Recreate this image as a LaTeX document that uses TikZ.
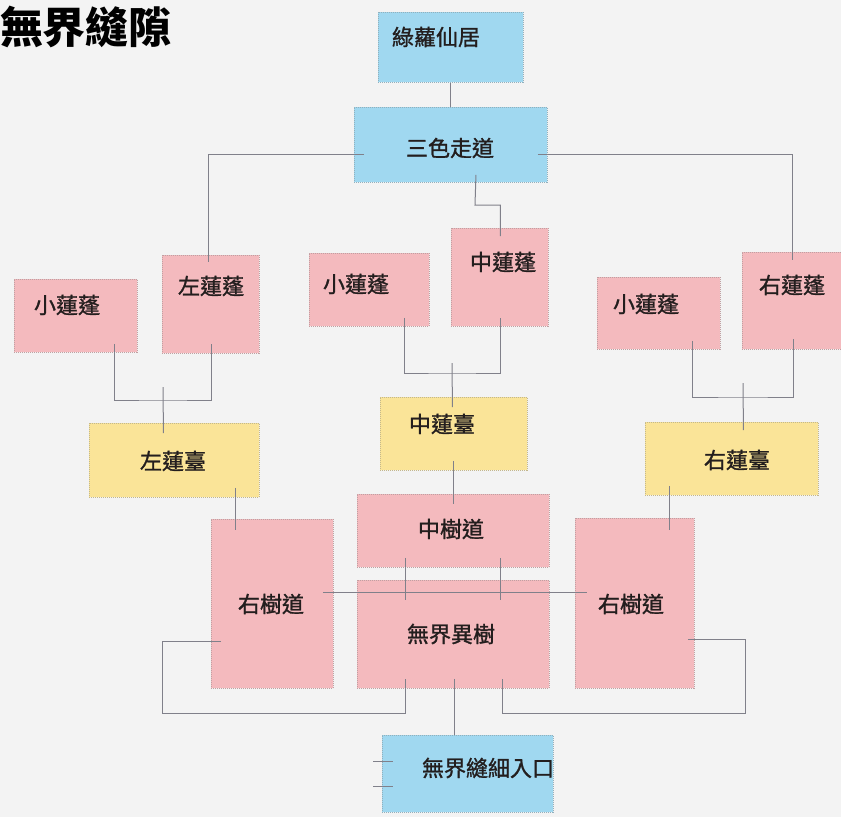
\documentclass[tikz,border=0pt]{standalone}
\usepackage{fontspec}
\newfontfamily\cjk{Noto Sans CJK TC}
\newfontfamily\cjkm{Noto Sans CJK TC}[FakeBold=1.2]
\usetikzlibrary{calc}
\definecolor{bluec}{RGB}{160,216,240}
\definecolor{pinkc}{RGB}{244,186,190}
\definecolor{yelc}{RGB}{250,228,152}
\definecolor{linec}{RGB}{128,128,138}
\definecolor{bgc}{RGB}{243,243,243}
\definecolor{txtc}{RGB}{35,30,30}
\tikzset{
  box/.style={rectangle, inner sep=0pt, anchor=north west, fill=#1,
    draw=#1!55!gray, line width=0.9pt, dash pattern=on 1pt off 1pt},
  lbl/.style={inner sep=0pt, text=txtc, font=\cjkm\fontsize{22}{24}\selectfont},
  conn/.style={draw=linec, line width=1pt}
}
\begin{document}
\begin{tikzpicture}[x=1pt,y=-1pt]
\fill[bgc] (0,0) rectangle (841,817);
\useasboundingbox (0,0) rectangle (841,817);

% title
\node[inner sep=0pt, text=black, font=\cjk\bfseries\fontsize{43}{45}\selectfont] (title) at (86,27) {無界縫隙};

% boxes
\node[box=bluec, minimum width=145pt, minimum height=70pt] (top) at (378,12) {};
\node[box=bluec, minimum width=193pt, minimum height=75pt] (sanse) at (354,107) {};
\node[box=pinkc, minimum width=123pt, minimum height=73pt] (sl) at (14,279) {};
\node[box=pinkc, minimum width=97pt, minimum height=98pt] (zlp) at (162,255) {};
\node[box=pinkc, minimum width=120pt, minimum height=73pt] (sm) at (309,253) {};
\node[box=pinkc, minimum width=97pt, minimum height=98pt] (zhp) at (451,228) {};
\node[box=pinkc, minimum width=123pt, minimum height=72pt] (sr) at (597,277) {};
\node[box=pinkc, minimum width=99pt, minimum height=97pt] (ylp) at (742,252) {};
\node[box=yelc, minimum width=170pt, minimum height=74pt] (zlt) at (89,423) {};
\node[box=yelc, minimum width=147pt, minimum height=73pt] (zht) at (380,397) {};
\node[box=yelc, minimum width=173pt, minimum height=73pt] (ylt) at (645,422) {};
\node[box=pinkc, minimum width=192pt, minimum height=73pt] (zsd) at (357,494) {};
\node[box=pinkc, minimum width=122pt, minimum height=169pt] (lsd) at (211,519) {};
\node[box=pinkc, minimum width=192pt, minimum height=108pt] (yjs) at (357,580) {};
\node[box=pinkc, minimum width=119pt, minimum height=170pt] (rsd) at (575,518) {};
\node[box=bluec, minimum width=171pt, minimum height=77pt] (ent) at (382,735) {};

% labels
\node[lbl] (t1) at (436,37) {綠蘿仙居};
\node[lbl] (t2) at (450,148) {三色走道};
\node[lbl] (t3) at (67,305) {小蓮蓬};
\node[lbl] (t4) at (211,286) {左蓮蓬};
\node[lbl] (t5) at (356,284) {小蓮蓬};
\node[lbl] (t6) at (503,262) {中蓮蓬};
\node[lbl] (t7) at (646,304) {小蓮蓬};
\node[lbl] (t8) at (792,285) {右蓮蓬};
\node[lbl] (t9) at (173,461) {左蓮臺};
\node[lbl] (t10) at (442,424) {中蓮臺};
\node[lbl] (t11) at (737,460) {右蓮臺};
\node[lbl] (t12) at (451,529) {中樹道};
\node[lbl] (t13) at (271,604) {右樹道};
\node[lbl] (t14) at (451,634) {無界異樹};
\node[lbl] (t15) at (631,604) {右樹道};
\node[lbl] (t16) at (488,768) {無界縫細入口};

% junction coordinates
\coordinate (j1) at (475,205);
\coordinate (hl) at (163,400);
\coordinate (hm) at (452,373);
\coordinate (hr) at (743,397);
\coordinate (lloop) at (162,713);
\coordinate (rloop) at (745,713);

% connectors
\draw[conn] (top.south) -- (sanse.north);
\draw[conn] ($(sanse.west)+(10,10)$) -| ($(zlp.north)+(-2,7)$);
\draw[conn] ($(sanse.east)+(-10,10)$) -| ($(ylp.north)+(1,8)$);
\draw[conn] ($(sanse.south)+(25,-8)$) -- (j1) -| ($(zhp.north)+(0.5,8)$);

\draw[conn] ($(sl.south)+(38.5,-9)$) |- (hl) -| ($(zlp.south)+(0.5,-10)$);
\draw[conn] ($(hl)+(0,-13)$) -- ($(zlt.north)+(-11,10)$);
\draw[conn] ($(sm.south)+(35,-9)$) |- (hm) -| ($(zhp.south)+(0.5,-9)$);
\draw[conn] ($(hm)+(0,-10)$) -- ($(zht.north)+(-1.5,10)$);
\draw[conn] ($(sr.south)+(33.5,-9)$) |- (hr) -| ($(ylp.south)+(1.5,-11)$);
\draw[conn] ($(hr)+(0,-14)$) -- ($(ylt.north)+(11.5,8)$);

\draw[conn] ($(zlt.south)+(61,-10)$) -- ($(lsd.north)+(-37,11)$);
\draw[conn] ($(zht.south)+(-0.5,-10)$) -- ($(zsd.north)+(0,10)$);
\draw[conn] ($(ylt.south)+(-62.5,-10)$) -- ($(rsd.north)+(34.5,12)$);

\draw[conn] ($(lsd.east)+(-11,-11.5)$) -- ($(rsd.west)+(12,-11)$);
\draw[conn] ($(zsd.south)+(-48,-10)$) -- ($(yjs.north)+(-48,20)$);
\draw[conn] ($(zsd.south)+(47,-10)$) -- ($(yjs.north)+(47,20)$);

\draw[conn] ($(lsd.west)+(10,37.5)$) -| (lloop) -| ($(yjs.south)+(-48,-10)$);
\draw[conn] ($(rsd.east)+(-7,36)$) -| (rloop) -| ($(yjs.south)+(49,-10)$);
\draw[conn] ($(yjs.south)+(1,-10)$) -- ($(ent.north)+(-13.5,0)$);

\draw[conn] ($(ent.west)+(-9,-12.5)$) -- ++(20,0);
\draw[conn] ($(ent.west)+(-9,12.5)$) -- ++(20,0);
\end{tikzpicture}
\end{document}
